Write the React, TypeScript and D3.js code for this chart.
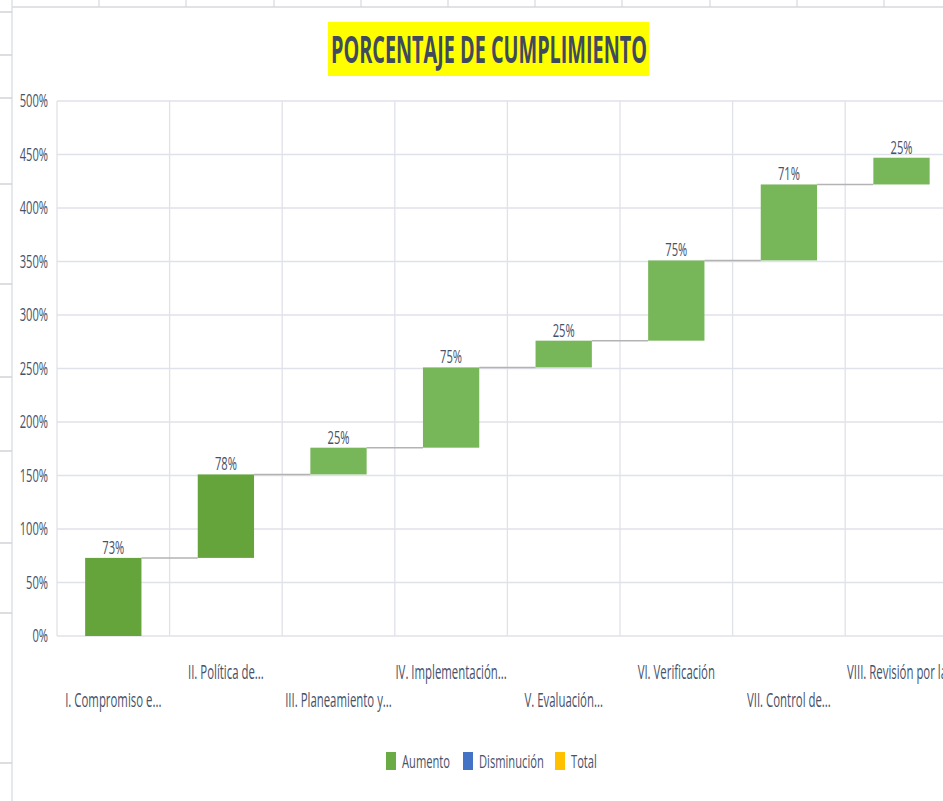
import * as d3 from "d3"

const categories = [
  "I. Compromiso e...",
  "II. Política de...",
  "III. Planeamiento y...",
  "IV. Implementación...",
  "V. Evaluación...",
  "VI. Verificación",
  "VII. Control de...",
  "VIII. Revisión por la...",
]
const increases = [0.73, 0.78, 0.25, 0.75, 0.25, 0.75, 0.71, 0.25]
const yTicks = [0, 0.5, 1, 1.5, 2, 2.5, 3, 3.5, 4, 4.5, 5]
const legendItems = ["Aumento", "Disminución", "Total"]

// spreadsheet background (cells behind the chart)
const sheetColumns = [99, 186, 274, 361, 448, 535, 622, 710, 797, 884]
const sheetRows = [12, 55, 98, 184, 284, 377, 451, 543, 613, 763]

const W = 943
const H = 801
const textColor = "#47526a"
const gridColor = "#dfe2e9"
const font = "'Open Sans', sans-serif"
const sx = 0.62

function Squeezed({ x, y, anchor = "middle", size = 18, k = sx, weight = 400, children, fill = textColor }: any) {
  return (
    <text
      transform={`translate(${x},${y}) scale(${k},1)`}
      textAnchor={anchor}
      fontSize={size}
      fontWeight={weight}
      fontFamily={font}
      fill={fill}
    >
      {children}
    </text>
  )
}

export default function App() {
  const margin = { left: 57, top: 101, bottom: 636 }
  const step = 112.6
  const x = d3
    .scaleBand()
    .domain(categories)
    .range([margin.left, margin.left + step * categories.length])
    .paddingInner(0.5)
    .paddingOuter(0.25)
  const y = d3.scaleLinear().domain([0, 5]).range([margin.bottom, margin.top])

  let running = 0
  const bars = increases.map((v, i) => {
    const start = running
    running += v
    return { cat: categories[i], v, start, end: running, i }
  })

  const colorFor = (i: number) => (i < 2 ? "#64a43a" : "#78b65a")
  const legendColors = ["#6aab45", "#4472c4", "#ffc000"]
  const legendX = [386, 463, 555]

  return (
    <svg
      width={W}
      height={H}
      style={{ position: "absolute", left: 0, top: 0, background: "#fff" }}
    >
      {/* sheet background */}
      <line x1={12} x2={W} y1={7} y2={7} stroke="#d6d9df" strokeWidth={1.5} />
      {sheetColumns.map((c) => (
        <line key={c} x1={c} x2={c} y1={0} y2={7} stroke="#d6d9df" strokeWidth={1.2} />
      ))}
      <line x1={12} x2={12} y1={0} y2={H} stroke="#dde0e6" strokeWidth={1.5} />
      {sheetRows.map((r) => (
        <line key={r} x1={0} x2={12} y1={r} y2={r} stroke="#d0d3d9" strokeWidth={1.5} />
      ))}

      {/* title */}
      <rect x={328} y={22} width={321} height={54} fill="#ffff00" />
      <text
        x={489}
        y={63}
        textAnchor="middle"
        fontSize={37}
        fontWeight={700}
        fontFamily={font}
        fill="#404a5e"
        textLength={316}
        lengthAdjust="spacingAndGlyphs"
      >
        PORCENTAJE DE CUMPLIMIENTO
      </text>

      {/* grid */}
      {yTicks.map((t) => (
        <g key={t}>
          <line
            x1={margin.left}
            x2={W}
            y1={y(t)}
            y2={y(t)}
            stroke={gridColor}
            strokeWidth={1.5}
          />
          <Squeezed x={48} y={y(t) + 6} anchor="end">
            {d3.format(".0%")(t)}
          </Squeezed>
        </g>
      ))}
      {d3.range(categories.length + 1).map((j) => {
        const gx = margin.left + j * x.step()
        return (
          <line key={j} x1={gx} x2={gx} y1={margin.top} y2={margin.bottom} stroke={gridColor} strokeWidth={1.3} />
        )
      })}

      {/* connectors */}
      {bars.slice(0, -1).map((b) => (
        <line
          key={"c" + b.i}
          x1={(x(b.cat) ?? 0) + x.bandwidth()}
          x2={x(categories[b.i + 1]) ?? 0}
          y1={y(b.end)}
          y2={y(b.end)}
          stroke="#b3b3b3"
          strokeWidth={1.5}
        />
      ))}

      {/* bars */}
      {bars.map((b) => (
        <g key={b.cat}>
          <rect
            x={x(b.cat)}
            y={y(b.end)}
            width={x.bandwidth()}
            height={y(b.start) - y(b.end)}
            fill={colorFor(b.i)}
          />
          <Squeezed x={(x(b.cat) ?? 0) + x.bandwidth() / 2} y={y(b.end) - 4}>
            {d3.format(".0%")(b.v)}
          </Squeezed>
        </g>
      ))}

      {/* category labels, staggered */}
      {categories.map((c, i) => (
        <Squeezed key={c} x={(x(c) ?? 0) + x.bandwidth() / 2} y={i % 2 === 1 ? 679 : 707} size={20} k={0.57}>
          {c}
        </Squeezed>
      ))}

      {/* legend */}
      {legendItems.map((l, i) => (
        <g key={l}>
          <rect x={legendX[i]} y={752} width={10} height={18} fill={legendColors[i]} />
          <Squeezed x={legendX[i] + 16} y={768} anchor="start">
            {l}
          </Squeezed>
        </g>
      ))}
    </svg>
  )
}
